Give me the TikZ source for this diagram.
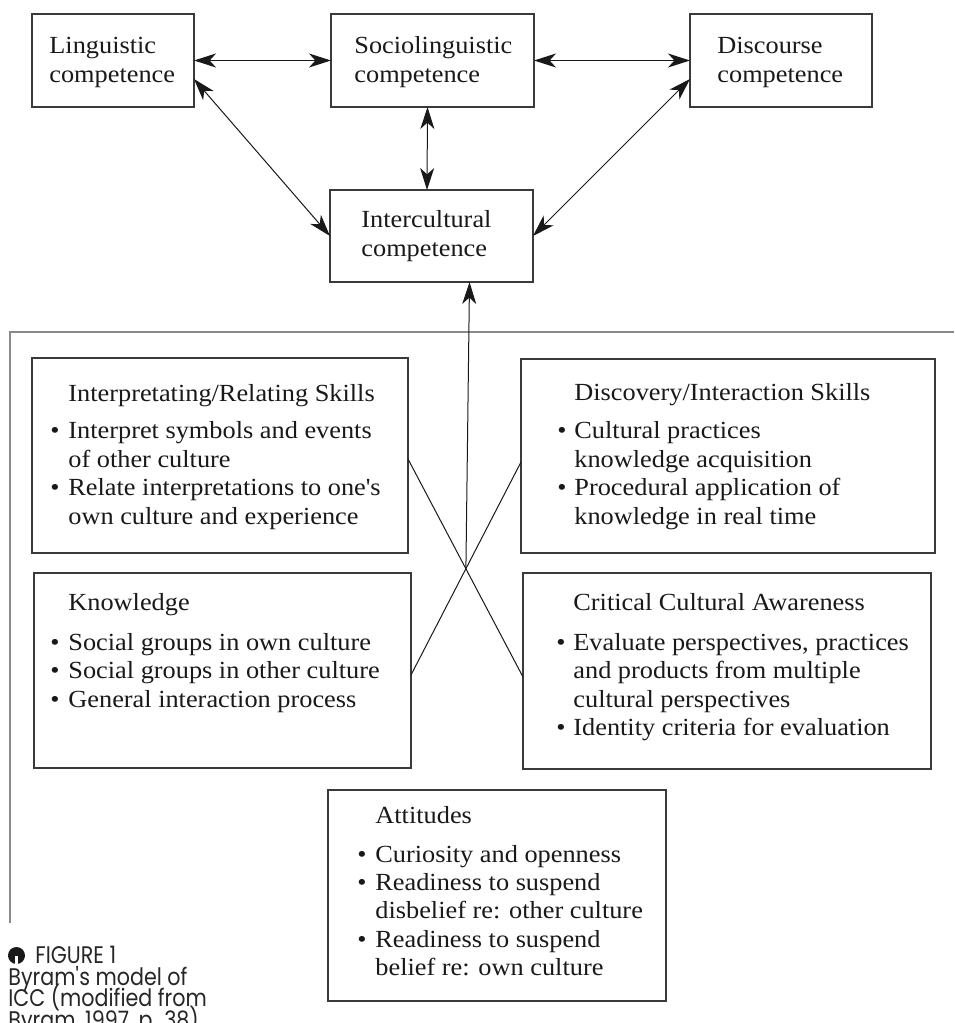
\documentclass[tikz,border=0pt]{standalone}
\usepackage{fontspec}
\setmainfont[FakeStretch=1.07]{Liberation Serif}
\newfontfamily\capfam[FakeStretch=0.86]{Poppins}
\usetikzlibrary{arrows.meta,calc}
\definecolor{boxc}{HTML}{3A3A3A}
\definecolor{framec}{HTML}{8A8A8A}
\newcommand\capfont{\capfam\fontsize{12pt}{13pt}\selectfont}
\newcommand\txtfont{\fontsize{12.3pt}{14pt}\selectfont}
\newcommand\topfont{\fontsize{12.3pt}{14pt}\selectfont}
\tikzset{
  box/.style={draw=boxc, line width=0.7pt, inner sep=0pt, outer sep=0pt},
  txt/.style={anchor=base west, inner sep=0pt, font=\txtfont, text=black!90},
  toptxt/.style={anchor=base west, inner sep=0pt, font=\topfont, text=black!90},
  captxt/.style={anchor=base west, inner sep=0pt, font=\capfont, text=black!85, text height=7pt, text depth=1pt},
  link/.style={line width=0.5pt, black!90},
  tip/.tip={Stealth[length=11pt, width=7pt, inset=3.2pt]},
  both/.style={link, tip-tip},
  frame/.style={draw=framec, line width=1pt}
}
\begin{document}
\begin{tikzpicture}[x=0.5pt, y=-0.5pt]
\useasboundingbox (0,0) rectangle (954,1023);
% top boxes
\node[box, minimum width=81pt, minimum height=46.5pt] (L) at (113,60.5) {};
\node[box, minimum width=101.5pt, minimum height=46.5pt] (S) at (432.5,60.5) {};
\node[box, minimum width=91pt, minimum height=46.5pt] (D) at (781,60.5) {};
\node[box, minimum width=101.5pt, minimum height=46pt] (I) at (431.5,236) {};
\node[toptxt] (L1) at (49,53) {Linguistic};
\node[toptxt] (L2) at (49,82) {competence};
\node[toptxt] (S1) at (354,53) {Sociolinguistic};
\node[toptxt] (S2) at (354,82) {competence};
\node[toptxt] (D1) at (717,53) {Discourse};
\node[toptxt] (D2) at (717,82) {competence};
\node[toptxt] (I1) at (361,227) {Intercultural};
\node[toptxt] (I2) at (361,256) {competence};
% frame
\coordinate (F0) at (10,923);
\coordinate (F1) at (10,332);
\coordinate (F2) at (954,332);
\draw[frame] (F0) -- (F1) -- (F2);
% lower boxes
\node[box, minimum width=188pt, minimum height=97.5pt] (IR) at (220,455.5) {};
\node[box, minimum width=207pt, minimum height=97pt] (DI) at (728,456) {};
\node[box, minimum width=188.5pt, minimum height=97.5pt] (KN) at (222.5,670.5) {};
\node[box, minimum width=204pt, minimum height=98pt] (CA) at (727,671) {};
\node[box, minimum width=169pt, minimum height=105.5pt] (AT) at (497,895.5) {};
% Interpretating
\node[txt] (IRt) at (68,401) {Interpretating/Relating Skills};
\node[txt] (IRb1) at (50,438) {•};
\node[txt] (IRa) at (68,438) {Interpret symbols and events};
\node[txt] (IRb) at (68,467) {of other culture};
\node[txt] (IRb2) at (50,495) {•};
\node[txt] (IRc) at (68,495) {Relate interpretations to one\textquotesingle s};
\node[txt] (IRd) at (68,524) {own culture and experience};
% Discovery
\node[txt] (DIt) at (574,400) {Discovery/Interaction Skills};
\node[txt] (DIb1) at (557,438) {•};
\node[txt] (DIa) at (574,438) {Cultural practices};
\node[txt] (DIb) at (574,467) {knowledge acquisition};
\node[txt] (DIb2) at (557,495) {•};
\node[txt] (DIc) at (574,495) {Procedural application of};
\node[txt] (DId) at (574,524) {knowledge in real time};
% Knowledge
\node[txt] (KNt) at (68,610) {Knowledge};
\node[txt] (KNb1) at (50,650) {•};
\node[txt] (KNa) at (68,650) {Social groups in own culture};
\node[txt] (KNb2) at (50,678) {•};
\node[txt] (KNb) at (68,678) {Social groups in other culture};
\node[txt] (KNb3) at (50,707) {•};
\node[txt] (KNc) at (68,707) {General interaction process};
% Critical
\node[txt] (CAt) at (573,610) {Critical Cultural Awareness};
\node[txt] (CAb1) at (556,650) {•};
\node[txt] (CAa) at (573,650) {Evaluate perspectives, practices};
\node[txt] (CAb) at (573,678) {and products from multiple};
\node[txt] (CAc) at (573,707) {cultural perspectives};
\node[txt] (CAb2) at (556,735) {•};
\node[txt] (CAd) at (573,735) {Identity criteria for evaluation};
% Attitudes
\node[txt] (ATt) at (375,823) {Attitudes};
\node[txt] (ATb1) at (357,862) {•};
\node[txt] (ATa) at (375,862) {Curiosity and openness};
\node[txt] (ATb2) at (357,890) {•};
\node[txt] (ATb) at (375,890) {Readiness to suspend};
\node[txt] (ATc) at (375,918) {disbelief re: other culture};
\node[txt] (ATb3) at (357,947) {•};
\node[txt] (ATd) at (375,947) {Readiness to suspend};
\node[txt] (ATe) at (375,975) {belief re: own culture};
% top arrows
\draw[both] (L.east) -- (S.west);
\draw[both] (S.east) -- (D.west);
\draw[both] ([yshift=-9.25pt]L.east) -- (I.west);
\draw[both] ([xshift=-2.5pt]S.south) -- ([xshift=-2.25pt]I.north);
\draw[both] ([yshift=-9.25pt]D.west) -- (I.east);
% cross lines
\coordinate (A1) at ([yshift=-1.75pt]IR.east);
\coordinate (A2) at ([yshift=-3pt]CA.west);
\coordinate (B1) at ([yshift=-3pt]DI.west);
\coordinate (B2) at ([yshift=-2.25pt]KN.east);
\draw[link] (A1) -- (A2);
\draw[link] (B1) -- (B2);
\coordinate (X) at (intersection of A1--A2 and B1--B2);
\draw[link, -tip] (X) -- ([xshift=19pt]I.south);
% caption
\node[circle, fill=black!90, minimum size=8.5pt, inner sep=0pt] (ic) at (16.5,955.5) {};
\fill[white] ([xshift=-0.8pt]ic.center) rectangle ([xshift=0.8pt]ic.south);
\node[captxt] (c1) at (35,963) {FIGURE 1};
\node[captxt] (c2) at (8,985) {Byram\textquotesingle s model of};
\node[captxt] (c3) at (8,1006.5) {ICC (modified from};
\node[captxt] (c4) at (8,1028) {Byram, 1997, p. 38)};
\end{tikzpicture}
\end{document}
